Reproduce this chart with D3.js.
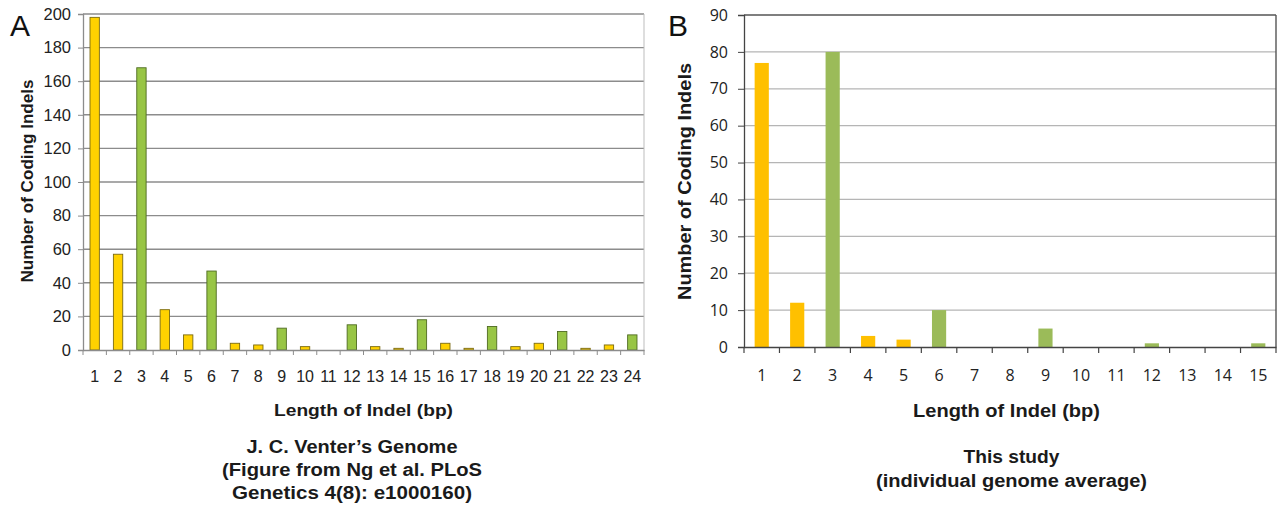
<!DOCTYPE html>
<html><head><meta charset="utf-8">
<script src="https://cdn.jsdelivr.net/npm/d3@7"></script>
<style>body{margin:0;background:#fff}svg{display:block}</style>
</head><body>
<script>
const catsA = d3.range(1,25).map(String);
const valsA = [198,57,168,24,9,47,4,3,13,2,0,15,2,1,18,4,1,14,2,4,11,1,3,9];
const ticksA = [0,20,40,60,80,100,120,140,160,180,200];
const catsB = d3.range(1,16).map(String);
const valsB = [77,12,80,3,2,10,0,0,5,0,0,1,0,0,1];
const ticksB = [0,10,20,30,40,50,60,70,80,90];
const yLabel = "Number of Coding Indels";
const xLabel = "Length of Indel (bp)";
const titleA = ["J. C. Venter\u2019s Genome","(Figure from Ng et al. PLoS","Genetics 4(8): e1000160)"];
const titleB = ["This study","(individual genome average)"];

const svg = d3.select("body").append("svg").attr("width",1280).attr("height",505);
const isGreen = c => (+c) % 3 === 0;
const ARIAL = "Liberation Sans, Arial, sans-serif";

function label(g, txt, x, y, size, len, rot) {
  const t = g.append("text")
    .attr("text-anchor","middle").attr("font-family",ARIAL).attr("font-weight","bold")
    .attr("font-size",size).attr("fill","#1a1a1a").text(txt);
  if (rot) t.attr("transform",`translate(${x},${y}) rotate(-90)`);
  else t.attr("x",x).attr("y",y);
  if (len) t.attr("textLength",len).attr("lengthAdjust","spacingAndGlyphs");
  return t;
}

// ---------- Panel A ----------
{
  const L=83,R=644,T=14,B=350;
  const x = d3.scaleBand().domain(catsA).range([L,R]).paddingInner(0.6).paddingOuter(0.3);
  const xb = d3.scaleBand().domain(catsA).range([L,R]);
  const y = d3.scaleLinear().domain([0,200]).range([B,T]);
  const g = svg.append("g");
  g.selectAll("line.grid").data(ticksA.slice(1)).join("line")
    .attr("x1",L).attr("x2",R).attr("y1",d=>y(d)).attr("y2",d=>y(d))
    .attr("stroke","#8c8c8c").attr("stroke-width",1.4);
  g.append("line").attr("x1",R).attr("x2",R).attr("y1",T).attr("y2",B).attr("stroke","#bdbdbd").attr("stroke-width",1);
  const ya = g.append("g").attr("transform",`translate(${L},0)`)
    .call(d3.axisLeft(y).tickValues(ticksA).tickSize(5).tickPadding(7));
  ya.select(".domain").attr("stroke","#8c8c8c").attr("stroke-width",1.3);
  ya.selectAll(".tick line").attr("stroke","#8c8c8c");
  ya.selectAll("text").attr("font-family",ARIAL).attr("font-size",16.5).attr("fill","#222");
  g.selectAll("rect").data(catsA).join("rect")
    .attr("x",d=>x(d)).attr("width",x.bandwidth())
    .attr("y",(d,i)=>y(valsA[i])).attr("height",(d,i)=>B-y(valsA[i]))
    .attr("fill",d=>isGreen(d)?"#98c545":"#ffd200")
    .attr("stroke",d=>isGreen(d)?"#4f6b22":"#7a6a10").attr("stroke-width",0.9);
  const xa = g.append("g").attr("transform",`translate(0,${B})`)
    .call(d3.axisBottom(xb).tickSize(0).tickPadding(21));
  xa.select(".domain").attr("stroke","#8c8c8c").attr("stroke-width",1.3);
  xa.selectAll("text").attr("font-family",ARIAL).attr("font-size",16).attr("fill","#222");
  g.selectAll("line.xt").data(catsA.concat(["end"])).join("line")
    .attr("x1",(d,i)=>L+i*xb.step()).attr("x2",(d,i)=>L+i*xb.step())
    .attr("y1",B).attr("y2",B+5).attr("stroke","#8c8c8c");
  label(g, yLabel, 33, 181, 17, 203, true);
  label(g, xLabel, 363.5, 416, 17, 179);
  const tl = [211,260,240];
  titleA.forEach((t,i)=>label(g, t, 352, 453+i*23, 18, tl[i]));
  g.append("text").attr("x",10).attr("y",36).attr("font-family",ARIAL).attr("font-size",30).attr("fill","#111").text("A");
}

// ---------- Panel B ----------
{
  const L=744,R=1276,T=15,B=347;
  const x = d3.scaleBand().domain(catsB).range([L,R]).paddingInner(0.6).paddingOuter(0.3);
  const xb = d3.scaleBand().domain(catsB).range([L,R]);
  const y = d3.scaleLinear().domain([0,90]).range([B,T]);
  const g = svg.append("g");
  g.selectAll("line.grid").data(ticksB.slice(1,-1)).join("line")
    .attr("x1",L).attr("x2",R).attr("y1",d=>y(d)).attr("y2",d=>y(d))
    .attr("stroke","#b5b5b5").attr("stroke-width",1.2);
  g.append("line").attr("x1",L).attr("x2",R).attr("y1",T).attr("y2",T).attr("stroke","#555").attr("stroke-width",1.4);
  g.append("line").attr("x1",R).attr("x2",R).attr("y1",T).attr("y2",B).attr("stroke","#555").attr("stroke-width",1.4);
  const ya = g.append("g").attr("transform",`translate(${L},0)`)
    .call(d3.axisLeft(y).tickValues(ticksB).tickSize(6).tickPadding(10));
  ya.select(".domain").attr("stroke","#444").attr("stroke-width",1.3);
  ya.selectAll(".tick line").attr("stroke","#444");
  ya.selectAll("text").attr("font-family","Open Sans, Lato, sans-serif").attr("font-size",16).attr("fill","#222");
  g.selectAll("rect").data(catsB).join("rect")
    .attr("x",d=>x(d)).attr("width",x.bandwidth())
    .attr("y",(d,i)=>y(valsB[i])).attr("height",(d,i)=>B-y(valsB[i]))
    .attr("fill",d=>isGreen(d)?"#9bbb59":"#ffc000");
  const xa = g.append("g").attr("transform",`translate(0,${B})`)
    .call(d3.axisBottom(xb).tickSize(0).tickPadding(23));
  xa.select(".domain").attr("stroke","#444").attr("stroke-width",1.3);
  xa.selectAll("text").attr("font-family","Open Sans, Lato, sans-serif").attr("font-size",16).attr("fill","#222");
  g.selectAll("line.xt").data(catsB.concat(["end"])).join("line")
    .attr("x1",(d,i)=>L+i*xb.step()).attr("x2",(d,i)=>L+i*xb.step())
    .attr("y1",B).attr("y2",B+6).attr("stroke","#444").attr("stroke-width",1.2);
  label(g, yLabel, 691, 181.5, 19, 237, true);
  label(g, xLabel, 1006.5, 417, 18, 187);
  const tl = [96,271];
  titleB.forEach((t,i)=>label(g, t, 1011.5, 463+i*24, 18, tl[i]));
  g.append("text").attr("x",668).attr("y",36).attr("font-family",ARIAL).attr("font-size",30).attr("fill","#111").text("B");
}
</script>
</body></html>
